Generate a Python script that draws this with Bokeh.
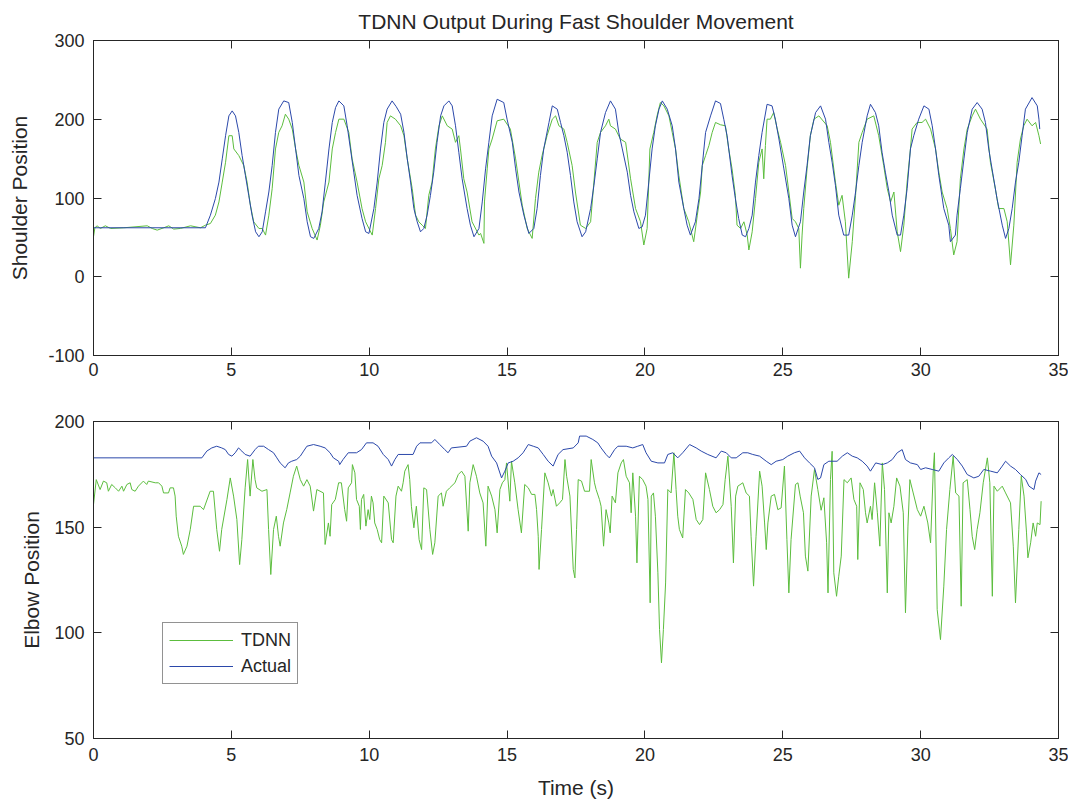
from bokeh.plotting import figure
from bokeh.layouts import column
from bokeh.models import Range1d, LinearAxis, FixedTicker, Legend, LegendItem, ColumnDataSource
from bokeh.embed import file_html
from bokeh.resources import INLINE

FONT = "Liberation Sans"
GREEN = "#5cbd3e"
BLUE = "#2b48aa"
AXIS = "#262626"

title_text = "TDNN Output During Fast Shoulder Movement"
x_label = "Time (s)"
shoulder_label = "Shoulder Position"
elbow_label = "Elbow Position"
series_names = ["TDNN", "Actual"]

x_ticks = [0, 5, 10, 15, 20, 25, 30, 35]
shoulder_ticks = [-100, 0, 100, 200, 300]
elbow_ticks = [50, 100, 150, 200]

# (time s, value) pairs
shoulder_tdnn = [
    (0.00, 50.8), (0.05, 62.2), (0.13, 64.7), (0.25, 61.3), (0.43, 64.7), (0.62, 61.3), (1.10, 62.2),
    (1.95, 64.7), (2.13, 61.3), (2.31, 59.2), (2.55, 62.2), (2.73, 64.7), (2.91, 60.5), (3.15, 61.3),
    (3.52, 64.7), (3.88, 62.2), (4.06, 65.5), (4.24, 67.6), (4.42, 78.2), (4.55, 95.0), (4.67, 120.2),
    (4.79, 145.4), (4.91, 179.1), (5.03, 179.1), (5.09, 162.3), (5.27, 153.9), (5.45, 141.3), (5.57, 120.2),
    (5.69, 90.8), (5.81, 69.8), (6.00, 61.3), (6.12, 61.3), (6.24, 52.9), (6.36, 78.2), (6.48, 111.8),
    (6.60, 162.3), (6.72, 183.3), (6.84, 191.7), (6.96, 206.4), (7.08, 200.1), (7.21, 187.5), (7.33, 162.3),
    (7.45, 141.3), (7.63, 120.2), (7.75, 82.4), (7.93, 61.3), (8.11, 46.6), (8.23, 65.5), (8.35, 95.0),
    (8.54, 120.2), (8.66, 162.3), (8.78, 183.3), (8.90, 200.1), (9.08, 200.1), (9.26, 183.3), (9.38, 149.7),
    (9.56, 120.2), (9.74, 86.6), (9.87, 69.8), (10.11, 52.9), (10.23, 86.6), (10.35, 124.4), (10.47, 141.3),
    (10.59, 170.7), (10.65, 195.9), (10.77, 204.3), (10.95, 200.1), (11.14, 191.7), (11.26, 179.1),
    (11.38, 149.7), (11.56, 111.8), (11.68, 78.2), (11.80, 69.8), (11.92, 65.5), (12.04, 61.3),
    (12.16, 103.4), (12.28, 120.2), (12.40, 162.3), (12.53, 191.7), (12.65, 204.3), (12.83, 191.7),
    (13.01, 187.5), (13.13, 170.7), (13.25, 179.1), (13.31, 162.3), (13.43, 124.4), (13.55, 107.6),
    (13.73, 69.8), (13.98, 52.9), (14.04, 55.0), (14.16, 42.4), (14.18, 95.0), (14.28, 137.0),
    (14.34, 162.3), (14.46, 174.9), (14.64, 198.0), (14.88, 200.1), (15.12, 187.5), (15.31, 149.7),
    (15.43, 120.2), (15.55, 90.8), (15.73, 61.3), (15.91, 48.7), (16.03, 99.2), (16.15, 132.8),
    (16.27, 153.9), (16.45, 179.1), (16.64, 200.1), (16.76, 204.3), (16.88, 191.7), (17.06, 187.5),
    (17.18, 170.7), (17.36, 141.3), (17.48, 107.6), (17.66, 65.5), (17.85, 61.3), (18.03, 69.8),
    (18.15, 120.2), (18.27, 170.7), (18.39, 183.3), (18.57, 191.7), (18.69, 200.1), (18.75, 191.7),
    (18.93, 187.5), (19.11, 174.9), (19.30, 170.7), (19.48, 124.4), (19.66, 86.6), (19.84, 69.8),
    (19.96, 40.3), (20.08, 61.3), (20.18, 162.3), (20.32, 183.3), (20.44, 204.3), (20.56, 221.2),
    (20.69, 217.0), (20.87, 204.3), (20.99, 183.3), (21.11, 162.3), (21.23, 128.6), (21.41, 86.6),
    (21.59, 69.8), (21.77, 44.5), (21.90, 78.2), (22.02, 107.6), (22.08, 141.3), (22.20, 153.9),
    (22.32, 166.5), (22.44, 183.3), (22.56, 195.9), (22.74, 193.0), (22.92, 191.7), (23.04, 162.3),
    (23.16, 137.0), (23.28, 103.4), (23.34, 65.5), (23.47, 61.3), (23.59, 69.8), (23.71, 52.9),
    (23.77, 34.0), (23.89, 57.1), (24.01, 99.2), (24.13, 145.4), (24.25, 162.3), (24.31, 124.4),
    (24.37, 166.5), (24.43, 200.1), (24.55, 200.1), (24.67, 208.5), (24.80, 187.5), (24.92, 170.7),
    (25.10, 141.3), (25.22, 107.6), (25.34, 74.0), (25.46, 69.8), (25.58, 61.3), (25.64, 10.9),
    (25.70, 52.9), (25.76, 86.6), (25.88, 137.0), (26.00, 179.1), (26.13, 200.1), (26.31, 204.3),
    (26.61, 191.7), (26.73, 170.7), (26.91, 120.2), (27.03, 90.8), (27.15, 103.4), (27.27, 69.8),
    (27.39, -1.8), (27.52, 44.5), (27.64, 103.4), (27.76, 170.7), (27.88, 183.3), (28.06, 200.1),
    (28.30, 204.3), (28.48, 179.1), (28.66, 141.3), (28.79, 111.8), (28.91, 95.0), (29.03, 107.6),
    (29.15, 57.1), (29.27, 31.9), (29.39, 65.5), (29.51, 120.2), (29.63, 162.3), (29.69, 187.5),
    (29.87, 195.9), (30.05, 195.9), (30.18, 200.1), (30.36, 187.5), (30.54, 162.3), (30.66, 132.8),
    (30.78, 107.6), (30.96, 86.6), (31.08, 61.3), (31.20, 27.7), (31.32, 44.5), (31.44, 124.4),
    (31.57, 162.3), (31.69, 187.5), (31.87, 204.3), (31.99, 212.8), (32.17, 200.1), (32.41, 187.5),
    (32.53, 145.4), (32.71, 111.8), (32.83, 86.6), (33.02, 86.6), (33.14, 69.8), (33.26, 15.1),
    (33.38, 65.5), (33.50, 145.4), (33.62, 174.9), (33.74, 191.7), (33.86, 200.1), (34.04, 191.7),
    (34.17, 195.9), (34.29, 179.1), (34.35, 168.6),
]

shoulder_actual = [
    (0.00, 62.2), (4.06, 62.2), (4.24, 78.2), (4.42, 99.2), (4.55, 120.2), (4.67, 149.7), (4.79, 179.1),
    (4.91, 204.3), (5.03, 210.6), (5.15, 204.3), (5.27, 183.3), (5.39, 153.9), (5.51, 128.6), (5.63, 103.4),
    (5.75, 78.2), (5.88, 57.1), (6.00, 50.8), (6.12, 57.1), (6.24, 82.4), (6.36, 107.6), (6.48, 141.2),
    (6.60, 183.3), (6.72, 212.8), (6.90, 223.3), (7.08, 221.2), (7.21, 195.9), (7.33, 162.3), (7.45, 128.6),
    (7.63, 99.2), (7.75, 69.8), (7.87, 50.8), (7.99, 48.7), (8.17, 61.3), (8.29, 82.4), (8.41, 120.2),
    (8.54, 162.3), (8.66, 195.9), (8.78, 214.9), (8.90, 223.3), (9.08, 217.0), (9.20, 191.7), (9.32, 162.3),
    (9.44, 132.8), (9.56, 103.4), (9.74, 74.0), (9.87, 57.1), (9.99, 55.0), (10.17, 86.6), (10.29, 120.2),
    (10.41, 162.3), (10.53, 195.9), (10.65, 212.8), (10.83, 223.3), (10.98, 216.0), (11.14, 206.4),
    (11.26, 183.3), (11.38, 149.7), (11.50, 120.2), (11.62, 86.6), (11.74, 69.8), (11.86, 57.1),
    (11.98, 61.3), (12.10, 78.2), (12.22, 103.4), (12.34, 132.8), (12.46, 170.7), (12.59, 204.3),
    (12.71, 217.0), (12.89, 223.3), (13.01, 217.0), (13.13, 191.7), (13.25, 158.1), (13.37, 124.4),
    (13.55, 86.6), (13.67, 65.5), (13.80, 50.8), (13.98, 61.3), (14.10, 95.0), (14.22, 137.0),
    (14.34, 170.7), (14.46, 204.3), (14.64, 225.4), (14.88, 221.2), (15.00, 200.1), (15.19, 170.7),
    (15.31, 137.0), (15.43, 107.6), (15.61, 78.2), (15.79, 55.0), (15.97, 61.3), (16.09, 86.6),
    (16.21, 128.6), (16.33, 162.3), (16.52, 195.9), (16.64, 217.0), (16.82, 212.8), (16.94, 195.9),
    (17.06, 179.1), (17.18, 158.1), (17.30, 128.6), (17.42, 95.0), (17.54, 69.8), (17.72, 50.8),
    (17.85, 57.1), (18.03, 86.6), (18.15, 116.0), (18.27, 149.7), (18.39, 183.3), (18.57, 208.5),
    (18.75, 223.3), (18.93, 212.8), (19.05, 183.3), (19.18, 162.3), (19.36, 132.8), (19.48, 103.4),
    (19.60, 82.4), (19.78, 61.3), (19.90, 63.4), (20.02, 78.2), (20.14, 120.2), (20.26, 162.3),
    (20.38, 191.7), (20.51, 212.8), (20.63, 223.3), (20.81, 212.8), (20.99, 191.7), (21.11, 162.3),
    (21.23, 120.2), (21.41, 86.6), (21.53, 65.5), (21.65, 52.9), (21.83, 69.8), (21.96, 99.2),
    (22.08, 141.3), (22.20, 183.3), (22.38, 204.3), (22.56, 223.3), (22.74, 220.0), (22.86, 200.0),
    (22.98, 179.1), (23.16, 128.6), (23.28, 99.2), (23.40, 74.0), (23.53, 52.9), (23.65, 50.8),
    (23.77, 61.3), (23.89, 78.2), (24.01, 120.2), (24.13, 153.9), (24.25, 183.3), (24.43, 219.0),
    (24.61, 217.0), (24.73, 200.1), (24.86, 174.9), (25.04, 137.0), (25.22, 99.2), (25.34, 65.5),
    (25.46, 50.8), (25.64, 69.8), (25.76, 107.6), (25.88, 141.3), (26.00, 179.1), (26.19, 208.5),
    (26.37, 217.0), (26.55, 200.1), (26.67, 170.7), (26.79, 145.4), (26.91, 116.0), (27.03, 78.2),
    (27.21, 52.9), (27.39, 52.9), (27.52, 78.2), (27.64, 107.6), (27.76, 141.3), (27.88, 170.7),
    (28.06, 204.3), (28.18, 219.0), (28.36, 208.5), (28.48, 191.7), (28.60, 158.1), (28.72, 132.8),
    (28.85, 107.6), (28.97, 78.2), (29.15, 52.9), (29.27, 52.9), (29.39, 78.2), (29.51, 111.8),
    (29.63, 162.3), (29.75, 179.1), (29.93, 200.1), (30.12, 217.0), (30.30, 212.8), (30.42, 191.7),
    (30.54, 162.3), (30.66, 128.6), (30.84, 86.6), (31.02, 65.5), (31.08, 44.5), (31.26, 52.9),
    (31.32, 78.2), (31.44, 111.8), (31.57, 149.7), (31.69, 183.3), (31.87, 212.8), (32.05, 221.2),
    (32.23, 212.8), (32.35, 195.9), (32.47, 162.3), (32.59, 137.0), (32.77, 99.2), (32.96, 65.5),
    (33.08, 48.7), (33.20, 61.3), (33.32, 86.6), (33.44, 120.2), (33.56, 145.4), (33.68, 179.1),
    (33.80, 212.8), (34.04, 227.5), (34.23, 217.0), (34.29, 200.1), (34.32, 187.5),
]

elbow_tdnn = [
    (0.00, 160.7), (0.10, 172.5), (0.24, 167.8), (0.36, 171.8), (0.48, 171.0), (0.54, 167.0), (0.66, 170.2),
    (0.79, 168.6), (0.91, 167.0), (1.03, 169.4), (1.09, 167.0), (1.21, 170.2), (1.33, 171.0), (1.39, 167.8),
    (1.51, 167.0), (1.63, 169.4), (1.81, 171.8), (1.93, 170.2), (1.99, 171.8), (2.24, 171.0), (2.36, 171.0),
    (2.48, 169.4), (2.54, 166.2), (2.72, 166.2), (2.78, 168.6), (2.90, 168.6), (2.96, 164.7), (3.00, 155.2),
    (3.08, 145.7), (3.20, 141.0), (3.26, 137.1), (3.39, 141.0), (3.51, 148.9), (3.63, 159.9), (3.87, 159.9),
    (3.99, 158.3), (4.23, 167.0), (4.35, 167.0), (4.47, 148.9), (4.57, 138.6), (4.65, 148.9), (4.84, 163.1),
    (4.96, 173.3), (5.08, 164.7), (5.20, 153.6), (5.30, 132.3), (5.38, 144.1), (5.50, 168.6), (5.59, 182.0),
    (5.68, 164.7), (5.78, 182.0), (5.86, 172.5), (5.92, 168.6), (6.11, 167.0), (6.29, 167.8), (6.35, 148.9),
    (6.43, 127.6), (6.53, 148.9), (6.63, 155.2), (6.71, 145.7), (6.77, 141.0), (6.89, 152.0), (7.01, 158.4),
    (7.13, 166.2), (7.25, 174.1), (7.37, 178.9), (7.50, 172.5), (7.62, 169.4), (7.74, 172.5), (7.86, 169.4),
    (7.98, 157.6), (8.10, 167.8), (8.34, 166.2), (8.40, 141.8), (8.52, 152.0), (8.58, 145.7), (8.64, 160.7),
    (8.77, 163.1), (8.89, 171.0), (8.99, 171.0), (9.11, 158.3), (9.18, 152.8), (9.24, 168.6), (9.36, 171.0),
    (9.39, 179.6), (9.48, 175.7), (9.54, 163.1), (9.64, 159.9), (9.68, 148.9), (9.72, 163.1), (9.80, 165.5),
    (9.88, 150.5), (9.96, 158.3), (10.02, 153.6), (10.08, 164.7), (10.14, 161.5), (10.20, 152.0),
    (10.29, 148.9), (10.38, 144.1), (10.45, 142.6), (10.53, 164.7), (10.69, 161.5), (10.81, 144.1),
    (10.87, 142.6), (10.97, 164.7), (11.05, 169.4), (11.17, 167.0), (11.23, 171.0), (11.29, 176.5),
    (11.41, 179.6), (11.47, 172.5), (11.53, 159.9), (11.62, 149.7), (11.71, 159.9), (11.81, 144.1),
    (11.90, 139.4), (11.98, 168.6), (12.08, 167.8), (12.20, 148.9), (12.30, 137.1), (12.38, 142.6),
    (12.50, 164.7), (12.62, 166.2), (12.68, 159.9), (12.80, 167.0), (12.92, 168.6), (13.11, 171.0),
    (13.23, 174.9), (13.35, 176.5), (13.47, 174.1), (13.59, 148.1), (13.65, 171.0), (13.77, 179.6),
    (13.89, 174.1), (14.01, 166.2), (14.13, 161.5), (14.23, 141.0), (14.31, 169.4), (14.44, 164.7),
    (14.56, 158.3), (14.64, 147.3), (14.74, 167.8), (14.83, 171.0), (14.92, 172.5), (14.98, 180.4),
    (15.10, 162.3), (15.16, 181.2), (15.28, 171.0), (15.40, 158.3), (15.52, 147.3), (15.64, 170.2),
    (15.77, 168.6), (15.89, 165.5), (16.01, 165.5), (16.07, 158.3), (16.13, 145.7), (16.16, 130.0),
    (16.25, 148.9), (16.37, 175.7), (16.49, 171.0), (16.61, 164.7), (16.67, 167.8), (16.79, 159.9),
    (16.91, 161.5), (17.01, 163.1), (17.10, 182.0), (17.16, 174.1), (17.28, 164.7), (17.40, 130.0),
    (17.46, 126.0), (17.52, 148.9), (17.58, 172.5), (17.70, 171.8), (17.81, 167.0), (17.99, 167.0),
    (18.05, 182.0), (18.17, 171.0), (18.23, 167.8), (18.35, 163.1), (18.41, 159.9), (18.50, 141.0),
    (18.59, 158.3), (18.69, 152.0), (18.74, 147.3), (18.81, 164.7), (18.93, 161.5), (19.02, 175.7),
    (19.14, 180.4), (19.22, 182.0), (19.32, 174.1), (19.44, 171.0), (19.50, 156.8), (19.56, 175.7),
    (19.66, 155.2), (19.71, 133.1), (19.80, 174.1), (19.92, 172.5), (20.04, 169.4), (20.11, 163.1),
    (20.19, 114.2), (20.23, 164.7), (20.31, 166.2), (20.38, 155.2), (20.47, 128.4), (20.53, 101.6),
    (20.60, 85.8), (20.67, 101.6), (20.75, 123.6), (20.83, 167.8), (20.95, 166.2), (21.05, 185.2),
    (21.13, 167.8), (21.19, 155.2), (21.25, 148.9), (21.37, 144.9), (21.47, 167.8), (21.59, 166.2),
    (21.74, 163.1), (21.86, 153.6), (21.98, 151.2), (22.10, 153.6), (22.20, 175.7), (22.34, 167.8),
    (22.46, 159.9), (22.58, 156.8), (22.71, 158.3), (22.83, 160.7), (22.91, 172.5), (23.01, 183.6),
    (23.13, 159.9), (23.21, 133.1), (23.29, 164.7), (23.37, 169.4), (23.55, 171.0), (23.67, 166.2),
    (23.79, 164.7), (23.85, 145.7), (23.94, 122.1), (24.03, 145.7), (24.16, 176.5), (24.25, 169.4),
    (24.34, 152.0), (24.40, 139.4), (24.46, 152.0), (24.58, 164.7), (24.70, 165.5), (24.82, 158.3),
    (24.94, 159.1), (25.06, 178.9), (25.15, 144.1), (25.22, 118.9), (25.30, 144.1), (25.46, 170.2),
    (25.55, 171.0), (25.63, 164.7), (25.75, 156.8), (25.82, 136.3), (25.91, 129.2), (26.03, 164.7),
    (26.15, 177.3), (26.27, 167.8), (26.39, 158.0), (26.49, 163.9), (26.59, 142.6), (26.64, 118.9),
    (26.73, 172.5), (26.79, 185.9), (26.85, 128.4), (26.95, 117.3), (27.03, 126.8), (27.12, 136.3),
    (27.22, 172.5), (27.34, 171.0), (27.48, 173.3), (27.58, 163.1), (27.68, 159.9), (27.72, 134.7),
    (27.80, 171.0), (27.92, 167.8), (28.00, 156.8), (28.06, 152.0), (28.18, 159.9), (28.24, 153.6),
    (28.33, 171.0), (28.43, 156.8), (28.52, 141.0), (28.61, 180.4), (28.69, 167.8), (28.79, 118.9),
    (28.85, 156.8), (28.93, 152.0), (29.03, 159.9), (29.13, 173.3), (29.25, 169.4), (29.37, 156.8),
    (29.45, 109.5), (29.54, 150.5), (29.61, 172.5), (29.73, 166.2), (29.88, 158.3), (30.00, 155.2),
    (30.12, 159.9), (30.26, 152.0), (30.36, 142.6), (30.46, 177.3), (30.50, 185.2), (30.60, 111.0),
    (30.72, 96.8), (30.84, 122.1), (30.94, 148.9), (31.06, 167.8), (31.18, 183.6), (31.27, 166.2),
    (31.39, 164.7), (31.47, 112.6), (31.54, 171.0), (31.69, 172.5), (31.79, 158.3), (31.87, 145.7),
    (31.96, 139.4), (32.05, 148.9), (32.15, 156.8), (32.27, 171.0), (32.42, 182.8), (32.51, 171.0),
    (32.60, 117.3), (32.66, 169.4), (32.78, 167.0), (32.96, 169.4), (33.08, 166.2), (33.26, 161.5),
    (33.36, 141.0), (33.44, 114.2), (33.56, 148.9), (33.65, 174.1), (33.75, 164.7), (33.84, 147.3),
    (33.89, 135.5), (33.99, 142.6), (34.08, 152.0), (34.17, 145.7), (34.23, 152.0), (34.33, 151.2),
    (34.37, 162.3),
]

elbow_actual = [
    (0.00, 182.8), (3.93, 182.8), (4.11, 186.0), (4.29, 187.5), (4.47, 188.3), (4.65, 187.5), (4.78, 186.7),
    (4.90, 184.4), (5.02, 183.6), (5.14, 185.2), (5.26, 187.5), (5.38, 186.0), (5.50, 184.4), (5.68, 183.6),
    (5.86, 186.7), (5.98, 188.3), (6.17, 188.3), (6.35, 186.7), (6.53, 185.2), (6.65, 182.8), (6.77, 180.4),
    (6.95, 178.1), (7.07, 180.4), (7.19, 181.2), (7.37, 182.0), (7.50, 183.6), (7.62, 186.0), (7.74, 188.3),
    (7.98, 189.1), (8.22, 188.3), (8.40, 187.5), (8.58, 185.2), (8.70, 182.8), (8.89, 181.2), (8.93, 179.6),
    (9.05, 182.0), (9.24, 185.2), (9.54, 185.2), (9.72, 186.7), (9.90, 189.9), (10.14, 189.9), (10.32, 188.3),
    (10.51, 184.4), (10.69, 182.0), (10.81, 178.9), (10.93, 182.0), (11.05, 184.4), (11.59, 184.4),
    (11.72, 188.3), (11.84, 189.9), (12.26, 189.9), (12.38, 191.5), (12.56, 189.1), (12.74, 186.7),
    (12.86, 185.2), (12.98, 187.5), (13.53, 188.3), (13.65, 190.7), (13.89, 192.3), (14.13, 190.7),
    (14.31, 188.3), (14.44, 183.6), (14.62, 180.4), (14.80, 173.3), (14.92, 176.5), (15.04, 180.4),
    (15.22, 181.2), (15.40, 182.8), (15.58, 185.2), (15.77, 189.1), (15.95, 188.3), (16.13, 187.5),
    (16.31, 184.4), (16.49, 181.2), (16.67, 178.9), (16.85, 184.4), (17.03, 186.7), (17.40, 187.5),
    (17.58, 189.9), (17.63, 193.1), (17.87, 193.1), (18.11, 191.5), (18.29, 189.9), (18.41, 187.5),
    (18.59, 184.4), (18.71, 182.8), (18.90, 186.7), (19.02, 188.3), (19.32, 188.3), (19.56, 187.5),
    (19.74, 188.3), (19.92, 189.1), (20.04, 185.2), (20.23, 181.2), (20.47, 180.4), (20.71, 180.4),
    (20.83, 184.4), (21.01, 185.2), (21.19, 182.8), (21.37, 185.2), (21.62, 189.1), (21.86, 187.5),
    (22.04, 186.0), (22.28, 184.4), (22.58, 182.8), (22.77, 186.0), (22.95, 185.2), (23.13, 182.8),
    (23.31, 182.8), (23.55, 185.2), (23.73, 185.2), (23.91, 184.4), (24.16, 183.6), (24.40, 181.2),
    (24.58, 179.6), (24.76, 181.2), (25.00, 182.0), (25.18, 183.6), (25.42, 185.2), (25.61, 186.0),
    (25.79, 182.8), (25.97, 180.4), (26.15, 178.1), (26.27, 172.6), (26.37, 173.3), (26.49, 179.6),
    (26.67, 181.2), (26.97, 181.2), (27.16, 183.6), (27.34, 185.2), (27.52, 183.6), (27.70, 182.8),
    (27.88, 181.2), (28.06, 178.9), (28.18, 176.5), (28.37, 180.4), (28.61, 179.6), (28.79, 180.4),
    (28.97, 182.0), (29.15, 185.2), (29.33, 186.7), (29.45, 182.0), (29.63, 180.4), (29.88, 179.6),
    (30.00, 177.3), (30.18, 178.1), (30.42, 177.3), (30.66, 176.5), (30.84, 180.4), (31.02, 182.8),
    (31.15, 184.4), (31.33, 182.0), (31.51, 178.9), (31.69, 174.9), (31.93, 173.3), (32.11, 174.1),
    (32.29, 177.3), (32.54, 176.5), (32.78, 175.7), (32.96, 178.9), (33.08, 181.2), (33.26, 178.9),
    (33.44, 177.3), (33.62, 174.9), (33.81, 172.6), (33.93, 169.4), (34.11, 167.8), (34.17, 171.8),
    (34.29, 175.7), (34.37, 174.9),
]


def src(pairs):
    t, v = zip(*pairs)
    return ColumnDataSource(data=dict(t=list(t), v=list(v)))


def style_axis(ax, ticks, labels=True, label_standoff=8, axis_label_standoff=10):
    ax.ticker = FixedTicker(ticks=ticks, minor_ticks=[])
    ax.major_tick_in = 8
    ax.major_tick_out = 0
    ax.minor_tick_in = 0
    ax.minor_tick_out = 0
    ax.axis_line_color = AXIS
    ax.axis_line_width = 1
    ax.major_tick_line_color = AXIS
    ax.major_label_text_font = FONT
    ax.major_label_text_font_size = "18px"
    ax.major_label_text_color = AXIS
    ax.major_label_standoff = label_standoff
    ax.axis_label_text_font = FONT
    ax.axis_label_text_font_size = "21px"
    ax.axis_label_text_font_style = "normal"
    ax.axis_label_text_color = AXIS
    ax.axis_label_standoff = axis_label_standoff
    if labels:
        ax.major_label_overrides = {t: ("-" + str(-t) if t < 0 else str(t)) for t in ticks}
    else:
        ax.major_label_overrides = {t: "" for t in ticks}
        ax.major_label_text_font_size = "0px"
        ax.major_label_standoff = 0


def make_fig(y_lo, y_hi, yticks, top_border, bottom_border, y_label, y_label_standoff,
             x_tick_standoff, x_label_text=None, x_label_standoff=10, title=None):
    p = figure(width=1068, height=top_border + 317 + bottom_border,
               x_range=Range1d(0, 35), y_range=Range1d(y_lo, y_hi),
               x_axis_type=None, y_axis_type=None,
               output_backend="svg", toolbar_location=None,
               min_border_left=93, min_border_right=10,
               min_border_top=top_border, min_border_bottom=bottom_border,
               title=title)
    p.grid.visible = False
    p.outline_line_color = AXIS
    p.background_fill_color = "white"
    p.border_fill_color = "white"

    bottom_ax = LinearAxis()
    style_axis(bottom_ax, x_ticks, label_standoff=x_tick_standoff, axis_label_standoff=x_label_standoff)
    if x_label_text:
        bottom_ax.axis_label = x_label_text
    p.add_layout(bottom_ax, "below")

    left_ax = LinearAxis()
    style_axis(left_ax, yticks, label_standoff=9, axis_label_standoff=y_label_standoff)
    left_ax.axis_label = y_label
    p.add_layout(left_ax, "left")

    top_ax = LinearAxis()
    style_axis(top_ax, x_ticks, labels=False)
    p.add_layout(top_ax, "above")

    right_ax = LinearAxis()
    style_axis(right_ax, yticks, labels=False)
    p.add_layout(right_ax, "right")
    return p


p1 = make_fig(-100, 300, shoulder_ticks, 38, 32, shoulder_label, 14, 7, title=title_text)
p1.title.text_font = FONT
p1.title.text_font_size = "21px"
p1.title.text_font_style = "normal"
p1.title.text_color = AXIS
p1.title.align = "center"
p1.title.standoff = 15
p1.line("t", "v", source=src(shoulder_tdnn), line_color=GREEN, line_width=1)
p1.line("t", "v", source=src(shoulder_actual), line_color=BLUE, line_width=1)

p2 = make_fig(50, 200, elbow_ticks, 34, 66, elbow_label, 8, 9,
              x_label_text=x_label, x_label_standoff=12)
g2 = p2.line("t", "v", source=src(elbow_tdnn), line_color=GREEN, line_width=1)
b2 = p2.line("t", "v", source=src(elbow_actual), line_color=BLUE, line_width=1)

legend = Legend(items=[LegendItem(label=series_names[0], renderers=[g2]),
                       LegendItem(label=series_names[1], renderers=[b2])],
                location=(69, 54))
legend.border_line_color = AXIS
legend.border_line_width = 1
legend.background_fill_color = "white"
legend.background_fill_alpha = 1
legend.label_text_font = FONT
legend.label_text_font_size = "18px"
legend.label_text_color = AXIS
legend.glyph_width = 64
legend.glyph_height = 22
legend.label_height = 22
legend.label_standoff = 8
legend.spacing = 4
legend.padding = 6
legend.margin = 0
p2.add_layout(legend)

layout = column(p1, p2, spacing=0)
open("out.html", "w").write(file_html(layout, INLINE))
